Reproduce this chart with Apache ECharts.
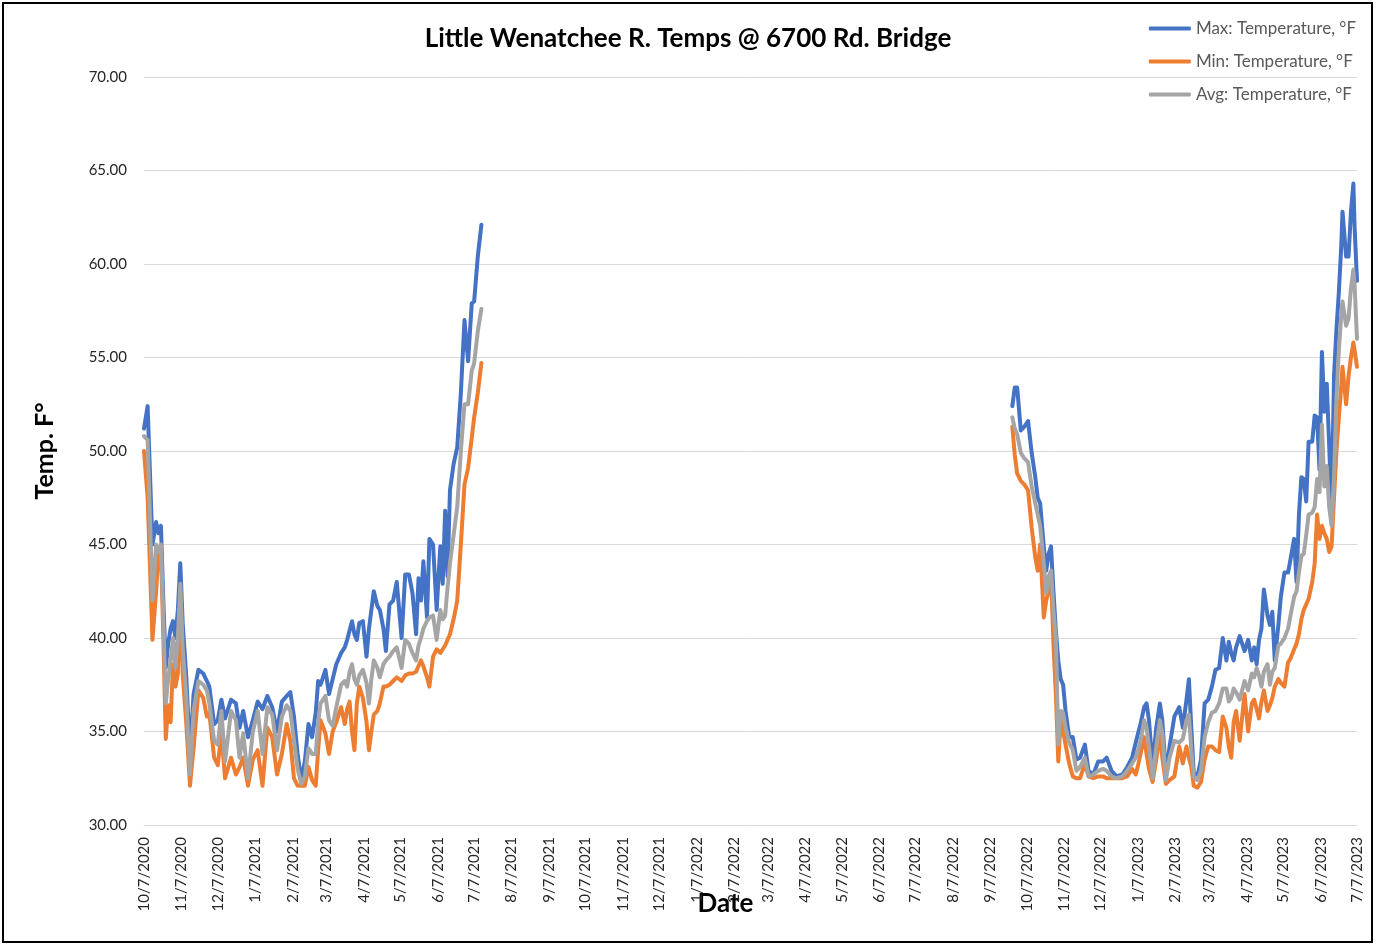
<!DOCTYPE html>
<html>
<head>
<meta charset="utf-8">
<title>Little Wenatchee R. Temps</title>
<script src="https://cdn.jsdelivr.net/npm/echarts@6.0.0/dist/echarts.min.js"></script>
<style>
  html, body { margin: 0; padding: 0; background: #fff; }
  #chart { width: 1376px; height: 946px; }
</style>
</head>
<body>
<div id="chart"></div>
<script>
// day offsets below are counted from the first logged day
const firstDay = '10/7/2020';
const seriesNames = ['Max: Temperature, °F', 'Min: Temperature, °F', 'Avg: Temperature, °F'];
const seriesColors = ['#4472C4', '#ED7D31', '#A5A5A5'];

const xTickLabels = [
  '10/7/2020', '11/7/2020', '12/7/2020',
  '1/7/2021', '2/7/2021', '3/7/2021', '4/7/2021', '5/7/2021', '6/7/2021',
  '7/7/2021', '8/7/2021', '9/7/2021', '10/7/2021', '11/7/2021', '12/7/2021',
  '1/7/2022', '2/7/2022', '3/7/2022', '4/7/2022', '5/7/2022', '6/7/2022',
  '7/7/2022', '8/7/2022', '9/7/2022', '10/7/2022', '11/7/2022', '12/7/2022',
  '1/7/2023', '2/7/2023', '3/7/2023', '4/7/2023', '5/7/2023', '6/7/2023', '7/7/2023'
];
const yMin = 30, yMax = 70, yStep = 5;

// first logging period: fall 2020 -> mid July 2021
const seg1Days = [
  0, 3, 7, 10, 12, 14, 16, 18, 20, 22,
  24, 26, 28, 30, 32, 35, 38, 41, 45, 49,
  52, 54, 58, 61, 64, 67, 72, 76, 79, 82,
  86, 90, 94, 98, 102, 106, 110, 114, 118, 121,
  124, 127, 130, 133, 136, 139, 142, 144, 146, 150,
  153, 156, 159, 163, 166, 168, 170, 172, 174, 176,
  178, 181, 184, 186, 188, 190, 193, 195, 198, 200,
  203, 206, 209, 213, 216, 219, 222, 225, 227, 229,
  231, 234, 236, 239, 242, 245, 247, 249, 251, 253,
  256, 259, 262, 265, 268, 271, 273, 276, 279
];
const seg1Max = [
  51.2, 52.4, 45.0, 46.2, 45.6, 46.0, 42.0, 38.4, 39.7, 40.5,
  40.9, 40.0, 41.5, 44.0, 40.8, 37.9, 33.8, 37.0, 38.3, 38.1,
  37.7, 37.4, 35.4, 35.6, 36.7, 35.7, 36.7, 36.5, 35.2, 36.1,
  34.7, 35.6, 36.6, 36.2, 36.9, 36.3, 35.0, 36.6, 36.9, 37.1,
  35.8, 33.8, 32.4, 33.4, 35.4, 34.7, 36.0, 37.7, 37.5, 38.3,
  37.0, 37.8, 38.6, 39.2, 39.5, 39.9, 40.4, 40.9, 40.2, 39.9,
  40.8, 40.9, 39.0, 40.5, 41.5, 42.5, 41.7, 41.5, 40.5, 39.3,
  41.8, 42.0, 43.0, 40.0, 43.4, 43.4, 42.4, 40.2, 43.2, 42.0,
  44.1, 41.1, 45.3, 45.0, 41.5, 44.9, 42.9, 46.8, 43.3, 47.9,
  49.3, 50.2, 53.1, 57.0, 54.8, 57.9, 58.0, 60.4, 62.1
];
const seg1Min = [
  50.0, 47.5, 39.9, 42.5, 44.5, 44.8, 40.0, 34.6, 36.4, 35.5,
  38.6, 37.4, 38.1, 42.5, 38.1, 35.4, 32.1, 34.1, 37.2, 36.8,
  35.8, 36.0, 33.6, 33.2, 34.9, 32.5, 33.6, 32.7, 33.1, 33.6,
  32.1, 33.5, 34.0, 32.1, 35.2, 34.7, 32.7, 33.8, 35.4, 34.5,
  32.5, 32.1, 32.1, 32.1, 33.1, 32.4, 32.1, 34.0, 35.6, 34.9,
  33.8, 35.0, 35.5, 36.3, 35.4, 36.2, 36.6, 35.0, 34.0, 36.5,
  37.4, 36.8, 35.5, 34.0, 35.0, 35.9, 36.1, 36.5, 37.4, 37.4,
  37.5, 37.7, 37.9, 37.7, 38.0, 38.1, 38.1, 38.2, 38.5, 38.8,
  38.5, 37.9, 37.4, 39.0, 39.4, 39.2, 39.4, 39.6, 39.9, 40.2,
  41.0, 42.0, 45.0, 48.2, 49.1, 50.7, 51.8, 53.1, 54.7
];
const seg1Avg = [
  50.8, 50.6, 42.0, 45.0, 44.6, 45.0, 41.0, 36.5, 37.8, 38.8,
  40.0, 38.4, 40.0, 42.9, 39.5, 36.8, 32.7, 36.1, 37.7, 37.5,
  37.2, 36.5, 34.5, 34.3, 36.1, 33.4, 36.1, 35.6, 33.6, 34.9,
  32.5, 35.0, 36.1, 33.8, 36.3, 35.9, 34.0, 35.8, 36.4, 36.1,
  34.5, 33.0, 32.2, 32.6, 34.1, 33.8, 33.8, 35.5, 36.5, 36.9,
  35.6, 35.3, 36.3, 37.5, 37.7, 37.4, 38.2, 38.6, 37.8, 37.5,
  38.0, 38.3, 37.6, 36.5, 37.8, 38.8, 38.4, 37.9, 38.6, 38.8,
  39.0, 39.3, 39.5, 38.4, 39.9, 39.7, 39.2, 38.8, 39.6, 40.0,
  40.5, 40.9, 41.1, 41.2, 39.9, 41.5, 41.0, 41.2, 42.7, 44.0,
  45.5, 47.0, 50.0, 52.5, 52.5, 54.3, 54.7, 56.4, 57.6
];

// second logging period: late Sept 2022 -> 7/7/2023
const seg2Days = [
  718, 720, 722, 725, 728, 731, 734, 737, 739, 741,
  744, 746, 748, 750, 752, 754, 756, 758, 760, 762,
  765, 768, 771, 774, 778, 781, 785, 789, 793, 796,
  800, 804, 809, 813, 817, 820, 822, 824, 827, 829,
  831, 834, 837, 840, 842, 845, 848, 852, 856, 859,
  862, 864, 866, 868, 871, 874, 877, 880, 883, 886,
  889, 892, 895, 897, 899, 901, 903, 906, 910, 913,
  916, 918, 920, 922, 924, 926, 929, 931, 933, 935,
  938, 940, 943, 946, 948, 951, 953, 955, 957, 959,
  961, 963, 966, 968, 970, 972, 974, 976, 978, 980,
  982, 984, 986, 988, 990, 991, 994, 996, 998, 1000,
  1001, 1003
];
const seg2Max = [
  52.4, 53.4, 53.4, 51.1, 51.3, 51.6, 49.9, 48.6, 47.5, 47.2,
  44.9, 43.6, 44.5, 44.9, 42.5, 40.4, 38.8, 37.8, 37.5, 36.1,
  34.7, 34.7, 33.5, 33.6, 34.3, 32.9, 32.7, 33.4, 33.4, 33.6,
  32.9, 32.6, 32.7, 33.1, 33.6, 34.4, 34.9, 35.4, 36.3, 36.5,
  35.6, 33.1, 35.2, 36.5, 35.6, 32.7, 34.2, 35.8, 36.3, 35.2,
  36.7, 37.8, 35.2, 32.8, 32.6, 33.5, 36.5, 36.7, 37.4, 38.3,
  38.4, 40.0, 38.8, 39.8, 39.2, 38.8, 39.5, 40.1, 39.3, 39.9,
  38.8, 39.5, 38.6, 39.9, 40.5, 42.6, 41.2, 40.7, 41.4, 38.8,
  40.7, 42.2, 43.5, 43.5, 44.2, 45.3, 43.0, 46.6, 48.6, 48.5,
  47.3, 50.5, 50.5, 51.9, 51.8, 49.0, 55.3, 52.1, 53.6, 50.3,
  46.8, 54.0, 56.5, 58.5, 61.0, 62.8, 60.4, 60.4, 62.8, 64.3,
  62.0, 59.1
];
const seg2Min = [
  51.3, 49.8, 48.8, 48.4, 48.2, 47.9, 45.9, 44.3, 43.6, 45.0,
  41.1, 42.0, 42.5, 43.3, 39.7, 37.0, 33.4, 35.6, 35.0, 34.3,
  33.3, 32.6, 32.5, 32.5, 33.3, 32.6, 32.5, 32.6, 32.6, 32.5,
  32.5, 32.5, 32.5, 32.6, 33.0, 32.7, 33.2, 33.8, 34.7, 33.8,
  33.0, 32.3, 33.5, 34.9, 33.6, 32.2, 32.4, 32.6, 34.2, 33.3,
  34.2, 33.6, 33.1, 32.1, 32.0, 32.3, 33.5, 34.2, 34.2, 34.0,
  33.9, 35.8, 35.2, 34.2, 33.6, 35.5, 36.1, 34.5, 37.0, 35.0,
  36.5, 36.7, 36.2, 35.7, 36.6, 37.2, 36.1, 36.4, 36.8, 37.4,
  37.8, 37.6, 37.4, 38.7, 38.9, 39.4, 39.7, 40.2, 41.0, 41.5,
  41.8, 42.1, 43.0, 44.0, 46.6, 45.3, 46.0, 45.6, 45.3, 44.6,
  44.9, 47.5, 50.0, 51.8, 53.5, 54.5, 52.5, 54.0, 55.0, 55.8,
  55.4, 54.5
];
const seg2Avg = [
  51.8, 51.2, 50.9, 49.9, 49.6, 49.4, 48.1, 47.2, 46.6, 46.0,
  44.0, 42.4, 43.3, 43.6, 41.5, 40.0, 34.3, 36.1, 36.0, 35.2,
  34.4, 34.0, 32.9, 33.1, 33.6, 32.6, 32.7, 32.9, 33.0, 32.9,
  32.6, 32.5, 32.6, 32.9, 33.3, 33.6, 34.0, 34.5, 35.6, 35.2,
  34.2, 32.5, 34.2, 35.6, 34.9, 32.4, 33.6, 34.5, 34.4, 34.6,
  35.6, 35.9, 34.0, 32.6, 32.4, 32.9, 34.7, 35.5, 36.0, 36.1,
  36.5, 37.3, 37.3, 36.6, 36.8, 37.3, 37.1, 36.7, 37.7, 37.2,
  38.1, 37.9, 38.4, 38.0, 37.4, 38.2, 38.6, 37.5, 38.2, 38.4,
  39.6, 39.7, 40.0, 40.5, 41.2, 42.2, 42.5, 43.5, 44.4, 44.5,
  45.5, 46.6, 46.7, 47.0, 48.5, 47.8, 51.4, 48.1, 49.2, 47.0,
  46.0, 48.6, 52.8, 55.4, 57.3, 58.0, 56.7, 57.1, 58.7, 59.7,
  58.9, 56.0
];

function parseDate(s) {
  const p = s.split('/');
  return new Date(+p[2], +p[0] - 1, +p[1]).getTime();
}
function dayToTime(offset) {
  const p = firstDay.split('/');
  return new Date(+p[2], +p[0] - 1, +p[1] + offset).getTime();
}
function fmtDate(t) {
  const d = new Date(t);
  return (d.getMonth() + 1) + '/' + d.getDate() + '/' + d.getFullYear();
}

// join both periods, with an empty point so the line breaks over the gap
function joinSegments(vals1, vals2) {
  const pts = seg1Days.map((d, i) => [dayToTime(d), vals1[i]]);
  pts.push([dayToTime(seg1Days[seg1Days.length - 1] + 1), '-']);
  seg2Days.forEach((d, i) => pts.push([dayToTime(d), vals2[i]]));
  return pts;
}

const seriesData = [
  joinSegments(seg1Max, seg2Max),
  joinSegments(seg1Min, seg2Min),
  joinSegments(seg1Avg, seg2Avg)
];

const FONT = 'Lato, "Open Sans", sans-serif';
const chart = echarts.init(document.getElementById('chart'));

chart.setOption({
  animation: false,
  backgroundColor: '#fff',
  textStyle: { fontFamily: FONT },
  title: {
    text: 'Little Wenatchee R. Temps @ 6700 Rd. Bridge',
    left: 'center',
    top: 21,
    textStyle: { fontFamily: FONT, fontSize: 26, fontWeight: 'bold', color: '#000' }
  },
  legend: {
    orient: 'vertical',
    right: 15,
    top: 15,
    icon: 'roundRect',
    itemWidth: 42,
    itemHeight: 4,
    itemGap: 16,
    data: seriesNames,
    textStyle: { fontFamily: FONT, fontSize: 17, color: '#595959' }
  },
  grid: { left: 144, right: 19, top: 77, bottom: 121 },
  xAxis: {
    // dates as epoch ms on a value axis, labelled on the 7th of each month
    type: 'value',
    min: parseDate(xTickLabels[0]),
    max: parseDate(xTickLabels[xTickLabels.length - 1]),
    name: 'Date',
    nameLocation: 'middle',
    nameGap: 66,
    nameMoveOverlap: false,
    nameTextStyle: {
      fontFamily: FONT, fontSize: 26, fontWeight: 'bold', color: '#000',
      padding: [0, 50, 0, 0]
    },
    axisLine: { show: true, lineStyle: { color: '#d9d9d9', width: 1 } },
    axisTick: { show: false },
    splitLine: { show: false },
    axisLabel: {
      customValues: xTickLabels.map(parseDate),
      formatter: v => fmtDate(v),
      rotate: 90,
      margin: 12,
      fontFamily: FONT,
      fontSize: 15,
      color: '#262626',
      hideOverlap: false
    }
  },
  yAxis: {
    type: 'value',
    min: yMin,
    max: yMax,
    interval: yStep,
    name: 'Temp. F°',
    nameLocation: 'middle',
    nameGap: 87,
    nameMoveOverlap: false,
    nameTextStyle: { fontFamily: FONT, fontSize: 25, fontWeight: 'bold', color: '#000' },
    axisLine: { show: false },
    axisTick: { show: false },
    splitLine: { lineStyle: { color: '#d9d9d9', width: 1 } },
    axisLabel: {
      formatter: v => v.toFixed(2),
      margin: 17,
      fontFamily: FONT,
      fontSize: 15,
      color: '#262626'
    }
  },
  series: seriesNames.map((name, i) => ({
    name: name,
    type: 'line',
    data: seriesData[i],
    showSymbol: false,
    symbol: 'none',
    connectNulls: false,
    color: seriesColors[i],
    lineStyle: { color: seriesColors[i], width: 4, join: 'round', cap: 'round' },
    z: 2 + i
  })),
  graphic: [{
    type: 'rect',
    shape: { x: 3, y: 3, width: 1369, height: 939 },
    style: { fill: 'none', stroke: '#000', lineWidth: 2 },
    silent: true
  }]
});
</script>
</body>
</html>
